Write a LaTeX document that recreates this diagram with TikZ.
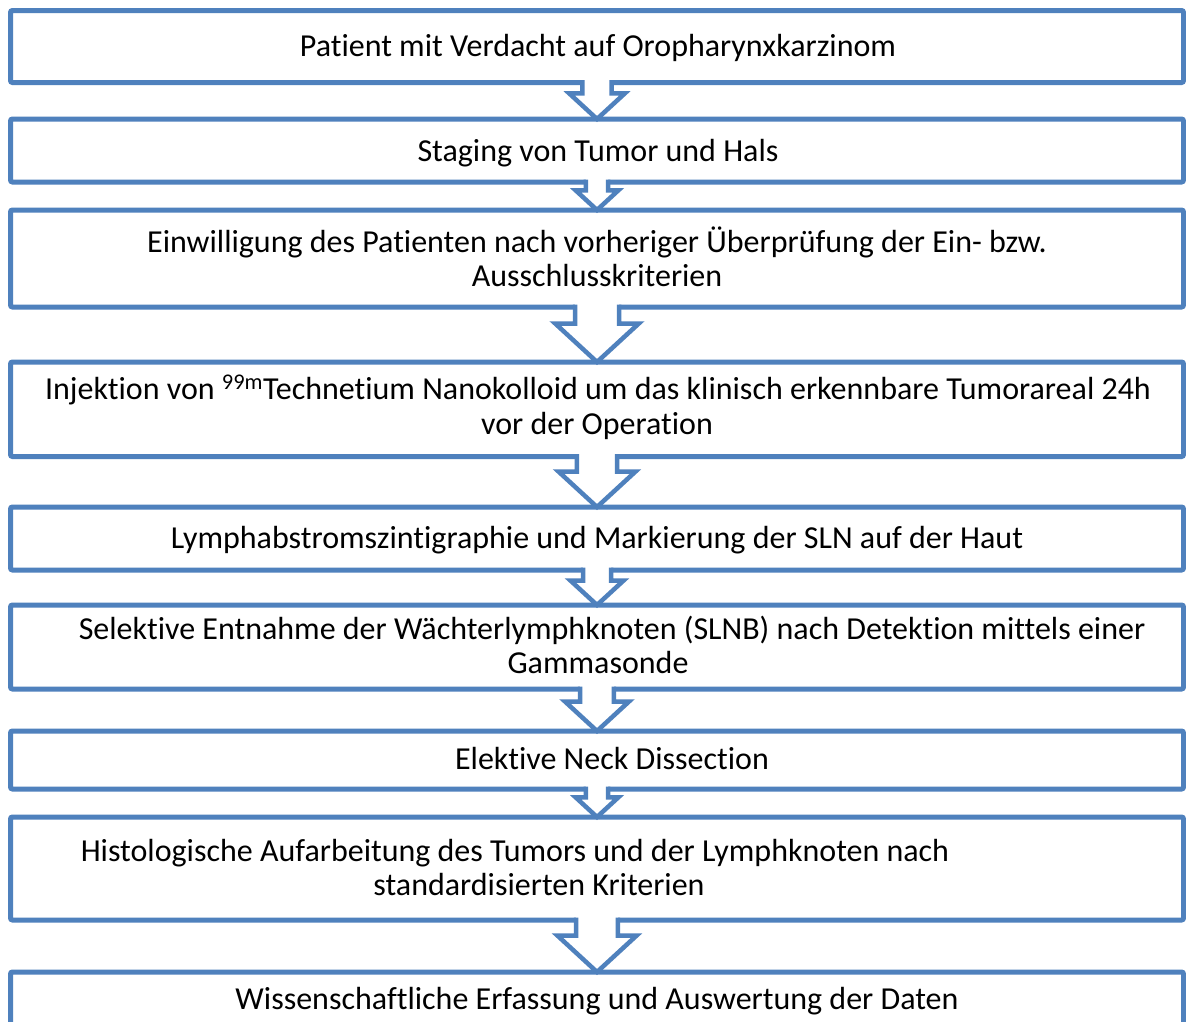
\documentclass[tikz,border=0pt]{standalone}
\usepackage{fontspec}
\setmainfont{Carlito}[Ligatures={NoCommon}]
\usetikzlibrary{calc}
\definecolor{boxblue}{HTML}{4F81BD}
\tikzset{
  flowbox/.style={draw=boxblue, line width=5pt, fill=white, rectangle, rounded corners=2pt,
    inner sep=0pt, outer sep=0pt, minimum width=1173pt},
  lbl/.style={anchor=base, inner sep=0pt, font=\fontsize{32}{34}\selectfont, text=black},
  blockarrow/.style={draw=boxblue, line width=4.5pt, line join=miter},
}
\newcommand{\flowarrow}[2]{%
  \fill[white] let \p1=(#1.south), \p2=(#2.north), \n1={\y1-\y2} in
    (\x1-0.4*\n1,\y1+3pt) -- (\x1-0.4*\n1,\y2+0.7*\n1) -- (\x1-0.76*\n1,\y2+0.7*\n1) -- (\x1,\y2)
    -- (\x1+0.76*\n1,\y2+0.7*\n1) -- (\x1+0.4*\n1,\y2+0.7*\n1) -- (\x1+0.4*\n1,\y1+3pt) -- cycle;
  \draw[blockarrow] let \p1=(#1.south), \p2=(#2.north), \n1={\y1-\y2} in
    (\x1-0.4*\n1,\y1+2.5pt) -- (\x1-0.4*\n1,\y2+0.7*\n1) -- (\x1-0.76*\n1,\y2+0.7*\n1) -- (\x1,\y2)
    -- (\x1+0.76*\n1,\y2+0.7*\n1) -- (\x1+0.4*\n1,\y2+0.7*\n1) -- (\x1+0.4*\n1,\y1+2.5pt);
}
\begin{document}
\begin{tikzpicture}[x=1pt,y=-1pt]
\useasboundingbox (0,0) rectangle (1186,1021);
\fill[white] (0,0) rectangle (1186,1021);
% boxes
\node[flowbox, minimum height=72pt]  (b1) at (597,46.5) {};
\node[flowbox, minimum height=63pt]  (b2) at (597,150.5) {};
\node[flowbox, minimum height=97pt]  (b3) at (597,258.5) {};
\node[flowbox, minimum height=94.5pt] (b4) at (597,409.25) {};
\node[flowbox, minimum height=63pt]  (b5) at (597,538.5) {};
\node[flowbox, minimum height=84pt]  (b6) at (597,647) {};
\node[flowbox, minimum height=58pt]  (b7) at (597,760) {};
\node[flowbox, minimum height=103pt] (b8) at (597,868.5) {};
\node[flowbox, minimum height=73pt]  (b9) at (597,1008.5) {};
% arrows
\flowarrow{b1}{b2}
\flowarrow{b2}{b3}
\flowarrow{b3}{b4}
\flowarrow{b4}{b5}
\flowarrow{b5}{b6}
\flowarrow{b6}{b7}
\flowarrow{b7}{b8}
\flowarrow{b8}{b9}
% texts
\node[lbl] (t1) at (598,56) {Patient mit Verdacht auf Oropharynxkarzinom};
\node[lbl] (t2) at (598,161) {Staging von Tumor und Hals};
\node[lbl] (t3a) at (597,252) {Einwilligung des Patienten nach vorheriger Überprüfung der Ein- bzw.};
\node[lbl] (t3b) at (597,286) {Ausschlusskriterien};
\node[lbl] (t4a) at (598,399) {Injektion von \textsuperscript{99m}Technetium Nanokolloid um das klinisch erkennbare Tumorareal 24h};
\node[lbl] (t4b) at (597,434) {vor der Operation};
\node[lbl] (t5) at (597,548) {Lymphabstromszintigraphie und Markierung der SLN auf der Haut};
\node[lbl] (t6a) at (612,639) {Selektive Entnahme der Wächterlymphknoten (SLNB) nach Detektion mittels einer};
\node[lbl] (t6b) at (598,673) {Gammasonde};
\node[lbl] (t7) at (612,769) {Elektive Neck Dissection};
\node[lbl] (t8a) at (515,861) {Histologische Aufarbeitung des Tumors und der Lymphknoten nach};
\node[lbl] (t8b) at (539,895) {standardisierten Kriterien};
\node[lbl] (t9) at (597,1009) {Wissenschaftliche Erfassung und Auswertung der Daten};
\end{tikzpicture}
\end{document}
